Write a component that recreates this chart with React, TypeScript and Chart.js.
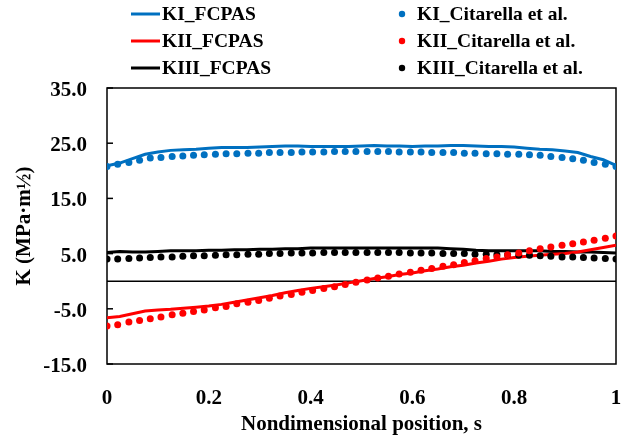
import { useEffect, useRef } from "react";
import { Chart, registerables } from "chart.js";

Chart.register(...registerables);

// Nondimensional positions for the FCPAS curves
const sLine = [
  0, 0.025, 0.05, 0.075, 0.1, 0.125, 0.15, 0.175, 0.2, 0.225, 0.25, 0.275, 0.3, 0.325,
  0.35, 0.375, 0.4, 0.425, 0.45, 0.475, 0.5, 0.525, 0.55, 0.575, 0.6, 0.625, 0.65, 0.675,
  0.7, 0.725, 0.75, 0.775, 0.8, 0.825, 0.85, 0.875, 0.9, 0.925, 0.95, 0.975, 1,
];
const kiFcpas = [
  20.9, 21.4, 22.2, 23.0, 23.4, 23.7, 23.8, 23.9, 24.1, 24.2, 24.2, 24.2, 24.3, 24.4,
  24.5, 24.5, 24.4, 24.4, 24.4, 24.4, 24.5, 24.6, 24.5, 24.5, 24.4, 24.5, 24.5, 24.6,
  24.6, 24.5, 24.4, 24.4, 24.3, 24.1, 23.9, 23.8, 23.6, 23.3, 22.6, 22.0, 21.0,
];
const kiiFcpas = [
  -6.6, -6.4, -5.9, -5.4, -5.2, -5.1, -4.9, -4.7, -4.5, -4.2, -3.8, -3.4, -3.0, -2.6,
  -2.1, -1.7, -1.3, -1.0, -0.7, -0.3, 0.1, 0.5, 0.8, 1.2, 1.5, 1.9, 2.2, 2.6,
  2.9, 3.3, 3.6, 4.0, 4.3, 4.5, 4.7, 4.9, 5.0, 5.3, 5.7, 6.1, 6.5,
];
const kiiiFcpas = [
  5.2, 5.4, 5.3, 5.3, 5.4, 5.5, 5.5, 5.5, 5.6, 5.6, 5.7, 5.7, 5.8, 5.8,
  5.9, 5.9, 6.0, 6.0, 6.0, 6.0, 6.0, 6.0, 6.0, 6.0, 6.0, 6.0, 6.0, 5.9,
  5.8, 5.6, 5.5, 5.5, 5.5, 5.5, 5.5, 5.4, 5.4, 5.3, 5.3, 5.2, 5.1,
];

// Nondimensional positions for the Citarella et al. points
const sDots = [
  0, 0.021, 0.043, 0.064, 0.085, 0.106, 0.128, 0.149, 0.17, 0.191, 0.213, 0.234, 0.255, 0.277,
  0.298, 0.319, 0.34, 0.362, 0.383, 0.404, 0.426, 0.447, 0.468, 0.489, 0.511, 0.532, 0.553, 0.574,
  0.596, 0.617, 0.638, 0.66, 0.681, 0.702, 0.723, 0.745, 0.766, 0.787, 0.809, 0.83, 0.851, 0.872,
  0.894, 0.915, 0.936, 0.957, 0.979, 1,
];
const kiCit = [
  20.8, 21.2, 21.5, 21.9, 22.3, 22.4, 22.6, 22.7, 22.8, 22.9, 23.0, 23.1, 23.1, 23.2,
  23.2, 23.3, 23.3, 23.3, 23.4, 23.4, 23.4, 23.5, 23.5, 23.5, 23.5, 23.5, 23.5, 23.4,
  23.4, 23.4, 23.3, 23.3, 23.3, 23.2, 23.2, 23.1, 23.1, 23.0, 23.0, 22.9, 22.8, 22.6,
  22.4, 22.2, 21.9, 21.5, 21.2, 20.8,
];
const kiiCit = [
  -8.1, -7.9, -7.4, -7.1, -6.8, -6.5, -6.1, -5.8, -5.5, -5.2, -4.8, -4.6, -4.1, -3.8,
  -3.5, -3.1, -2.7, -2.4, -2.0, -1.7, -1.3, -1.0, -0.6, -0.2, 0.2, 0.6, 0.9, 1.3,
  1.6, 2.0, 2.3, 2.7, 3.0, 3.4, 3.7, 4.1, 4.4, 4.8, 5.1, 5.5, 5.9, 6.2,
  6.5, 6.8, 7.1, 7.4, 7.8, 8.2,
];
const kiiiCit = [
  4.0, 4.0, 4.1, 4.2, 4.3, 4.4, 4.4, 4.5, 4.6, 4.6, 4.7, 4.8, 4.8, 4.9,
  4.9, 5.0, 5.0, 5.1, 5.1, 5.1, 5.2, 5.2, 5.2, 5.2, 5.2, 5.2, 5.2, 5.2,
  5.1, 5.1, 5.1, 5.0, 5.0, 5.0, 4.9, 4.9, 4.8, 4.8, 4.7, 4.7, 4.6, 4.5,
  4.4, 4.4, 4.3, 4.2, 4.1, 4.0,
];

const seriesNames = [
  "KI_FCPAS", "KII_FCPAS", "KIII_FCPAS",
  "KI_Citarella et al.", "KII_Citarella et al.", "KIII_Citarella et al.",
];
const BLUE = "#0070C0";
const RED = "#FF0000";
const BLACK = "#000000";
const FONT = "'Liberation Serif', 'Times New Roman', serif";

const pts = (xs: number[], ys: number[]) => xs.map((x, i) => ({ x, y: ys[i] }));

const framePlugin = {
  id: "frame",
  beforeDatasetsDraw(chart: any) {
    const { ctx, chartArea: a, scales } = chart;
    ctx.save();
    ctx.strokeStyle = BLACK;
    ctx.lineWidth = 1.5;
    // zero line
    const y0 = scales.y.getPixelForValue(0);
    ctx.beginPath();
    ctx.moveTo(a.left, y0);
    ctx.lineTo(a.right, y0);
    ctx.stroke();
    // inward tick marks on the value axis
    scales.y.ticks.forEach((t: any) => {
      const yy = scales.y.getPixelForValue(t.value);
      ctx.beginPath();
      ctx.moveTo(a.left, yy);
      ctx.lineTo(a.left + 6, yy);
      ctx.stroke();
    });
    ctx.strokeRect(a.left, a.top, a.right - a.left, a.bottom - a.top);
    ctx.restore();
  },
  afterDraw(chart: any) {
    const { ctx } = chart;
    const ds = chart.data.datasets;
    ctx.save();
    ctx.font = `bold 19.5px ${FONT}`;
    ctx.textBaseline = "middle";
    ctx.textAlign = "left";
    ctx.fillStyle = BLACK;
    const rows = [14, 41, 68];
    for (let r = 0; r < 3; r++) {
      const y = rows[r];
      const line = ds[3 + r];
      ctx.strokeStyle = line.borderColor;
      ctx.lineWidth = 3;
      ctx.beginPath();
      ctx.moveTo(131, y);
      ctx.lineTo(160, y);
      ctx.stroke();
      ctx.fillText(line.label, 162, y + 1);
      const dot = ds[r];
      ctx.fillStyle = dot.backgroundColor;
      ctx.beginPath();
      ctx.arc(402, y, 3.2, 0, Math.PI * 2);
      ctx.fill();
      ctx.fillStyle = BLACK;
      ctx.fillText(dot.label, 417, y + 1);
    }
    ctx.restore();
  },
};

export default function App() {
  const ref = useRef<HTMLCanvasElement | null>(null);
  useEffect(() => {
    if (!ref.current) return;
    const dotSet = (label: string, ys: number[], color: string) => ({
      label,
      data: pts(sDots, ys),
      showLine: false,
      pointRadius: 3.5,
      pointBackgroundColor: color,
      pointBorderWidth: 0,
      backgroundColor: color,
      borderColor: color,
      order: 0,
    });
    const lineSet = (label: string, ys: number[], color: string) => ({
      label,
      data: pts(sLine, ys),
      showLine: true,
      pointRadius: 0,
      borderColor: color,
      backgroundColor: color,
      borderWidth: 3,
      tension: 0,
      order: 1,
    });
    const chart = new Chart(ref.current, {
      type: "scatter",
      data: {
        datasets: [
          dotSet(seriesNames[3], kiCit, BLUE),
          dotSet(seriesNames[4], kiiCit, RED),
          dotSet(seriesNames[5], kiiiCit, BLACK),
          lineSet(seriesNames[0], kiFcpas, BLUE),
          lineSet(seriesNames[1], kiiFcpas, RED),
          lineSet(seriesNames[2], kiiiFcpas, BLACK),
        ] as any,
      },
      options: {
        animation: false,
        responsive: true,
        maintainAspectRatio: false,
        layout: { padding: { top: 88, right: 9, left: 0, bottom: 0 } },
        plugins: { legend: { display: false }, tooltip: { enabled: false } },
        scales: {
          x: {
            type: "linear",
            min: 0,
            max: 1,
            grid: { display: false, drawTicks: true, tickLength: 22 },
            border: { display: false },
            ticks: {
              stepSize: 0.2,
              padding: 0,
              color: BLACK,
              font: { family: FONT, size: 21, weight: "bold" },
              maxRotation: 0,
              callback: (v: any) => (v === 0 ? "0" : Math.abs(v - 1) < 1e-9 ? "1" : Number(v).toFixed(1)),
            },
            title: {
              display: true,
              text: "Nondimensional position, s",
              color: BLACK,
              font: { family: FONT, size: 21, weight: "bold" },
              padding: { top: 0, bottom: 4 },
            },
            afterFit: (s: any) => { s.height = 77; },
          },
          y: {
            type: "linear",
            min: -15,
            max: 35,
            grid: { display: false, drawTicks: true, tickLength: 20 },
            border: { display: false },
            ticks: {
              stepSize: 10,
              padding: 0,
              labelOffset: 2.5,
              color: BLACK,
              font: { family: FONT, size: 21, weight: "bold" },
              callback: (v: any) => Number(v).toFixed(1),
            },
            title: {
              display: true,
              text: "K (MPa·m½)",
              color: BLACK,
              font: { family: FONT, size: 21, weight: "bold" },
              padding: { top: 12, bottom: 0 },
            },
            afterFit: (s: any) => { s.width = 107; },
          },
        },
      } as any,
      plugins: [framePlugin],
    });
    return () => chart.destroy();
  }, []);
  return (
    <div style={{ position: "fixed", left: 0, top: 0, width: 625, height: 441, background: "#fff" }}>
      <canvas ref={ref} />
    </div>
  );
}
